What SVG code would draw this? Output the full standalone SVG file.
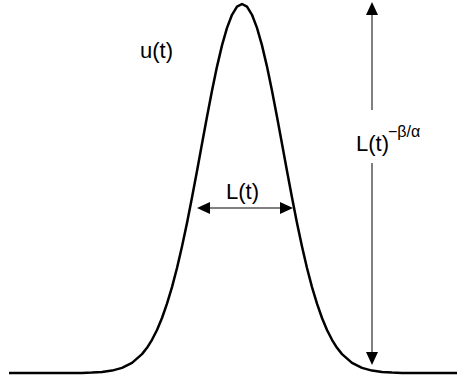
<svg xmlns="http://www.w3.org/2000/svg" width="470" height="381" viewBox="0 0 470 381">
<style>
.curve{fill:none;stroke:#000;stroke-width:2.5;stroke-linejoin:round;stroke-linecap:butt}
.conn{fill:none;stroke:#000;stroke-width:1}
.ah{fill:#000;stroke:none}
text{font-family:"Liberation Sans",Arial,sans-serif;fill:#000}
.lbl{font-size:22px}
.sup{font-size:16px}
</style>
<rect width="470" height="381" fill="#fff"/>
<g id="curve">
<polyline class="curve" points="9,373 82,373 92,372.6 102,371.9 112,370.6 122,367.9 132,362.9 142,354.1 147,347.8 152,339.8 157,330 162,318 167,303.7 172,287.1 177,268 182,246.5 187,222.9 192,197.6 197,171 202,143.7 207,116.7 212,90.7 217,66.6 222,45.4 227,27.9 232,14.8 237,6.7 242,4 247,6.7 252,14.8 257,27.9 262,45.4 267,66.6 272,90.7 277,116.7 282,143.7 287,171 292,197.6 297,222.9 302,246.5 307,268 312,287.1 317,303.7 322,318 327,330 332,339.8 337,347.8 342,354.1 352,362.9 362,367.9 372,370.6 382,371.9 392,372.6 402,373 457,373"/>
</g>
<g id="label-u">
<text class="lbl" x="140" y="58">u(t)</text>
</g>
<g id="label-width">
<text class="lbl" x="226" y="199">L(t)</text>
</g>
<g id="label-height">
<text class="lbl" x="356" y="151">L(t)</text>
<text class="sup" x="388" y="137">−β/α</text>
</g>
<g id="connectors">
<line class="conn" x1="209" y1="208" x2="281" y2="208"/>
<polygon class="ah" points="197,208 210,202 210,214"/>
<polygon class="ah" points="293,208 280,202 280,214"/>
<line class="conn" x1="372" y1="14" x2="372" y2="110"/>
<line class="conn" x1="372" y1="163" x2="372" y2="353"/>
<polygon class="ah" points="372,2 366,15 378,15"/>
<polygon class="ah" points="372,365 366,352 378,352"/>
</g>
</svg>
